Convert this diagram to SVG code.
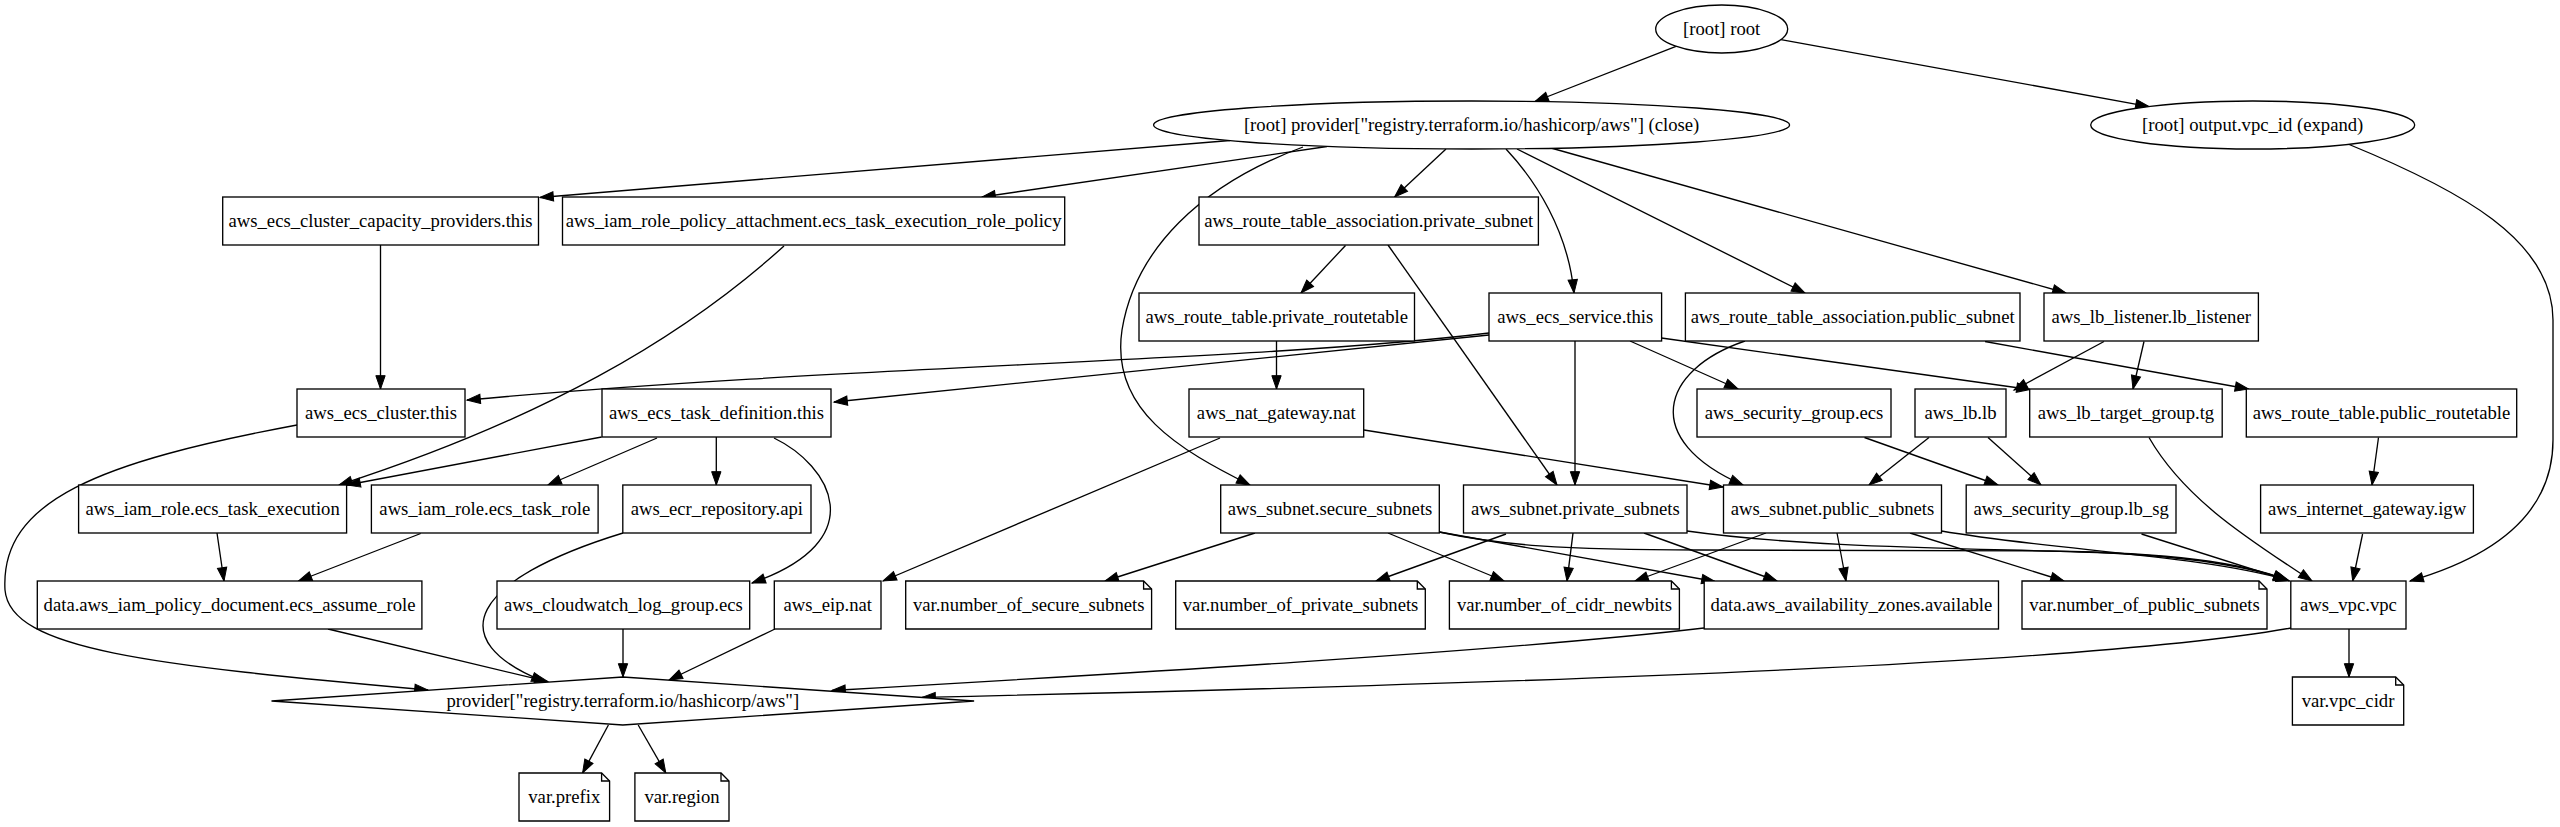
<svg xmlns="http://www.w3.org/2000/svg" width="2560" height="827" viewBox="0 0 2560 827">
<defs>
<style>
.n rect,.n ellipse,.n polygon,.n polyline{fill:#fff;stroke:#000;stroke-width:1.33}
.n polyline{fill:none}
.n text{font-family:"Liberation Serif","Times New Roman",serif;font-size:18.67px;text-anchor:middle;fill:#000}
#edges path{fill:none;stroke:#000;stroke-width:1.33;marker-end:url(#arr)}
</style>
<marker id="arr" markerUnits="userSpaceOnUse" markerWidth="16" markerHeight="12" viewBox="-1 -1 16 12" refX="13.33" refY="4.67" orient="auto"><path d="M0,0 L13.33,4.67 L0,9.33 z" fill="#000" stroke="#000" stroke-width="1"/></marker>
</defs>
<rect width="2560" height="827" fill="#fff"/>

<g id="edges">
<path d="M1676,46.3 L1535,101.5"/>
<path d="M1781,39.6 L2149,106.6"/>
<path d="M1230,140.5 L540,197.5"/>
<path d="M1327,146.5 L982,197"/>
<path d="M1446,149 L1394.6,197"/>
<path d="M1506,149 C1535,180 1568,230 1574,293"/>
<path d="M1517,149 L1805,293"/>
<path d="M1551,148 L2066,293"/>
<path d="M1303,147 C1200,185 1135,250 1122,330 C1110,410 1180,450 1250,485"/>
<path d="M2348,144 C2460,190 2553,240 2553,320 L2553,440 C2553,510 2500,555 2410,581"/>
<path d="M380.5,245 L380.5,389"/>
<path d="M784,246 C680,340 540,420 339,485"/>
<path d="M1345.5,245.5 L1301,293"/>
<path d="M1388,245 L1557,485"/>
<path d="M1276.5,341 L1276.5,389"/>
<path d="M1489,333 C1250,362 850,365 467,400"/>
<path d="M1489,335 L834,402"/>
<path d="M1575,341 L1575,485"/>
<path d="M1630,341 L1738,389"/>
<path d="M1661.5,338 L2030,389.5"/>
<path d="M1745,341 C1660,370 1640,440 1743,485"/>
<path d="M1985,341.5 L2248.5,389"/>
<path d="M2104,341.5 L2014,390"/>
<path d="M2144,341.5 L2133,389"/>
<path d="M297,425 C100,462 0,500 5,590 C10,650 150,665 428,690"/>
<path d="M601.6,437 L347,485"/>
<path d="M657,438 L548,485"/>
<path d="M716.3,437 L716.3,485"/>
<path d="M774,438 C830,465 875,540 752,583"/>
<path d="M1220,438 L883,581"/>
<path d="M1364,430 L1723,487"/>
<path d="M1864.5,437.5 L1998,485"/>
<path d="M1929,437.5 L1869,485"/>
<path d="M1988,437.5 L2041,485"/>
<path d="M2149,437.5 C2185,500 2250,540 2312,581"/>
<path d="M2378.5,437.5 L2372,485"/>
<path d="M217,533 L224,581"/>
<path d="M420.7,533.5 L298.5,581"/>
<path d="M623,533 C470,580 440,640 545,682"/>
<path d="M1255,533 L1105,581"/>
<path d="M1388,533 L1504,581"/>
<path d="M1439.5,532 L1715,581.5"/>
<path d="M1439,532 C1500,545 1560,550 1700,550 L2050,551 C2170,553 2240,562 2287,580"/>
<path d="M1506,534 L1376,581"/>
<path d="M1573,533 L1567,581"/>
<path d="M1644,533 L1777,581"/>
<path d="M1687,531 C1800,547 1950,548 2080,552 C2180,555 2245,565 2287,580"/>
<path d="M1766,533 L1635,581"/>
<path d="M1837,533 L1846,581"/>
<path d="M1910,533 L2064,581"/>
<path d="M1941.5,531 C2050,550 2200,555 2287,580"/>
<path d="M2141.5,534 L2289.6,581"/>
<path d="M2362.6,534 L2352.7,581"/>
<path d="M328,629 L548,681.7"/>
<path d="M623,629 L623,677"/>
<path d="M775,629 L669,680"/>
<path d="M1704,628 C1500,652 1100,675 832,690.5"/>
<path d="M2291,628 C2100,662 1600,682 922,697.4"/>
<path d="M2349,628 L2349,677"/>
<path d="M608.4,725 L582.6,773"/>
<path d="M638.2,725 L665.8,773"/>
</g>

<g id="root" class="n"><ellipse cx="1721.7" cy="29" rx="66" ry="24"/><text x="1721.7" y="35">[root] root</text></g>
<g id="provider_close" class="n"><ellipse cx="1471.6" cy="125" rx="318" ry="24"/><text x="1471.6" y="131">[root] provider["registry.terraform.io/hashicorp/aws"] (close)</text></g>
<g id="output_vpc_id" class="n"><ellipse cx="2252.7" cy="125" rx="162" ry="24"/><text x="2252.7" y="131">[root] output.vpc_id (expand)</text></g>

<g id="ecs_cluster_capacity_providers" class="n"><rect x="222.7" y="197" width="315.8" height="48"/><text x="380.6" y="227">aws_ecs_cluster_capacity_providers.this</text></g>
<g id="iam_role_policy_attachment" class="n"><rect x="562.5" y="197" width="502.2" height="48"/><text x="813.6" y="227">aws_iam_role_policy_attachment.ecs_task_execution_role_policy</text></g>
<g id="rta_private_subnet" class="n"><rect x="1199" y="197" width="339.4" height="48"/><text x="1368.7" y="227">aws_route_table_association.private_subnet</text></g>

<g id="private_routetable" class="n"><rect x="1139" y="293" width="275.5" height="48"/><text x="1276.7" y="323">aws_route_table.private_routetable</text></g>
<g id="ecs_service" class="n"><rect x="1489" y="293" width="172.6" height="48"/><text x="1575.3" y="323">aws_ecs_service.this</text></g>
<g id="rta_public_subnet" class="n"><rect x="1685.4" y="293" width="334.6" height="48"/><text x="1852.7" y="323">aws_route_table_association.public_subnet</text></g>
<g id="lb_listener" class="n"><rect x="2044" y="293" width="214.4" height="48"/><text x="2151.2" y="323">aws_lb_listener.lb_listener</text></g>

<g id="ecs_cluster" class="n"><rect x="297" y="389" width="168" height="48"/><text x="381" y="419">aws_ecs_cluster.this</text></g>
<g id="ecs_task_definition" class="n"><rect x="602" y="389" width="229" height="48"/><text x="716.5" y="419">aws_ecs_task_definition.this</text></g>
<g id="nat_gateway" class="n"><rect x="1189" y="389" width="174.7" height="48"/><text x="1276.3" y="419">aws_nat_gateway.nat</text></g>
<g id="security_group_ecs" class="n"><rect x="1697" y="389" width="194" height="48"/><text x="1794" y="419">aws_security_group.ecs</text></g>
<g id="lb_lb" class="n"><rect x="1915" y="389" width="91" height="48"/><text x="1960.5" y="419">aws_lb.lb</text></g>
<g id="lb_target_group" class="n"><rect x="2029.7" y="389" width="192.5" height="48"/><text x="2126" y="419">aws_lb_target_group.tg</text></g>
<g id="public_routetable" class="n"><rect x="2246.3" y="389" width="270.4" height="48"/><text x="2381.5" y="419">aws_route_table.public_routetable</text></g>

<g id="iam_role_ecs_task_execution" class="n"><rect x="78.6" y="485" width="268" height="48"/><text x="212.6" y="515">aws_iam_role.ecs_task_execution</text></g>
<g id="iam_role_ecs_task_role" class="n"><rect x="371.4" y="485" width="226.7" height="48"/><text x="484.8" y="515">aws_iam_role.ecs_task_role</text></g>
<g id="ecr_repository" class="n"><rect x="622.8" y="485" width="188.2" height="48"/><text x="716.9" y="515">aws_ecr_repository.api</text></g>
<g id="secure_subnets" class="n"><rect x="1220.7" y="485" width="218.6" height="48"/><text x="1330" y="515">aws_subnet.secure_subnets</text></g>
<g id="private_subnets" class="n"><rect x="1463.5" y="485" width="223.5" height="48"/><text x="1575.3" y="515">aws_subnet.private_subnets</text></g>
<g id="public_subnets" class="n"><rect x="1723.5" y="485" width="218" height="48"/><text x="1832.5" y="515">aws_subnet.public_subnets</text></g>
<g id="security_group_lb_sg" class="n"><rect x="1966.2" y="485" width="209.8" height="48"/><text x="2071.1" y="515">aws_security_group.lb_sg</text></g>
<g id="internet_gateway" class="n"><rect x="2260.6" y="485" width="212.8" height="48"/><text x="2367" y="515">aws_internet_gateway.igw</text></g>

<g id="iam_policy_document" class="n"><rect x="37.3" y="581" width="384.6" height="48"/><text x="229.6" y="611">data.aws_iam_policy_document.ecs_assume_role</text></g>
<g id="cloudwatch_log_group" class="n"><rect x="497" y="581" width="252.7" height="48"/><text x="623.4" y="611">aws_cloudwatch_log_group.ecs</text></g>
<g id="eip_nat" class="n"><rect x="774.3" y="581" width="106.7" height="48"/><text x="827.7" y="611">aws_eip.nat</text></g>
<g id="var_number_of_secure_subnets" class="n"><polygon points="1143.6,581 905.7,581 905.7,629 1151.6,629 1151.6,589 1143.6,581"/><polyline points="1143.6,581 1143.6,589 1151.6,589"/><text x="1028.7" y="611">var.number_of_secure_subnets</text></g>
<g id="var_number_of_private_subnets" class="n"><polygon points="1417.3,581 1175.7,581 1175.7,629 1425.3,629 1425.3,589 1417.3,581"/><polyline points="1417.3,581 1417.3,589 1425.3,589"/><text x="1300.5" y="611">var.number_of_private_subnets</text></g>
<g id="var_number_of_cidr_newbits" class="n"><polygon points="1671.4,581 1449.4,581 1449.4,629 1679.4,629 1679.4,589 1671.4,581"/><polyline points="1671.4,581 1671.4,589 1679.4,589"/><text x="1564.4" y="611">var.number_of_cidr_newbits</text></g>
<g id="availability_zones" class="n"><rect x="1704.2" y="581" width="294.3" height="48"/><text x="1851.4" y="611">data.aws_availability_zones.available</text></g>
<g id="var_number_of_public_subnets" class="n"><polygon points="2259,581 2022,581 2022,629 2267,629 2267,589 2259,581"/><polyline points="2259,581 2259,589 2267,589"/><text x="2144.5" y="611">var.number_of_public_subnets</text></g>
<g id="vpc" class="n"><rect x="2290.8" y="581" width="115.2" height="48"/><text x="2348.4" y="611">aws_vpc.vpc</text></g>

<g id="provider_aws" class="n"><polygon points="622.8,677 974.1,701 622.8,725 271.5,701"/><text x="622.8" y="707">provider["registry.terraform.io/hashicorp/aws"]</text></g>
<g id="var_vpc_cidr" class="n"><polygon points="2395.7,677 2292.4,677 2292.4,725 2403.7,725 2403.7,685 2395.7,677"/><polyline points="2395.7,677 2395.7,685 2403.7,685"/><text x="2348" y="707">var.vpc_cidr</text></g>

<g id="var_prefix" class="n"><polygon points="601.6,773 519,773 519,821 609.6,821 609.6,781 601.6,773"/><polyline points="601.6,773 601.6,781 609.6,781"/><text x="564.3" y="803">var.prefix</text></g>
<g id="var_region" class="n"><polygon points="721,773 634.9,773 634.9,821 729,821 729,781 721,773"/><polyline points="721,773 721,781 729,781"/><text x="682" y="803">var.region</text></g>
</svg>
